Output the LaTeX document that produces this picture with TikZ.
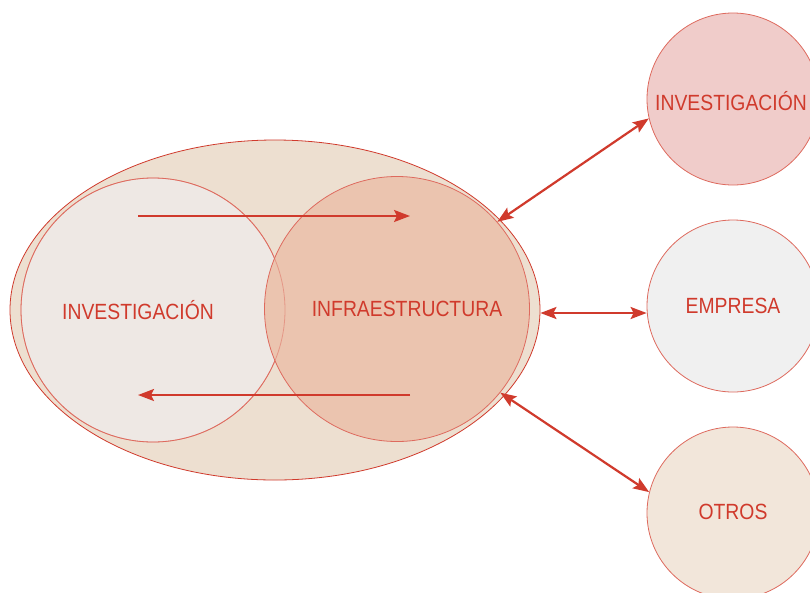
\documentclass[tikz,border=0pt]{standalone}
\usepackage{fontspec}
\setmainfont[FakeStretch=0.88]{Liberation Sans}
\usetikzlibrary{arrows.meta}
\usetikzlibrary{shapes.geometric}
\definecolor{redline}{HTML}{D03A2C}
\definecolor{rimline}{HTML}{DE6A5E}
\definecolor{ellfill}{HTML}{EDDFD0}
\definecolor{invfill}{HTML}{EEE8E4}
\definecolor{infrafill}{HTML}{EBC4AF}
\definecolor{pinkfill}{HTML}{F0CCCA}
\definecolor{greyfill}{HTML}{F0F0F0}
\definecolor{sandfill}{HTML}{F2E6DA}
\tikzstyle{bubble}=[circle, draw=rimline, line width=0.8pt, inner sep=0]
\tikzstyle{label}=[text=redline, font=\fontsize{22}{26}\selectfont, inner sep=0]
\tikzstyle{flow}=[draw=redline, line width=2.2pt, -{Stealth[length=16pt, width=12pt, inset=3pt]}]
\tikzstyle{link}=[draw=redline, line width=2.2pt, {Stealth[length=16pt, width=12pt, inset=3pt]}-{Stealth[length=16pt, width=12pt, inset=3pt]}]

\begin{document}
\begin{tikzpicture}[x=1pt, y=-1pt]
          \clip (0, 0) rectangle (810, 592);
          \fill[white] (0, 0) rectangle (810, 592);

          \node[ellipse, draw=redline, fill=ellfill, line width=0.8pt,
            minimum width=530, minimum height=340] (campus) at (275, 310) {};
          \node[bubble, fill=invfill, minimum size=264] (inv) at (153, 310) {};
          \node[bubble, fill=infrafill, minimum size=265] (infra) at (397, 309) {};
          \draw[rimline, line width=0.8pt, opacity=0.5] (inv) circle (132);

          \node[label] (inv_text) at (138, 310) {INVESTIGACIÓN};
          \node[label] (infra_text) at (407, 309) {INFRAESTRUCTURA};

          \node[bubble, fill=pinkfill, minimum size=172] (inv_out) at (733, 99) {};
          \node[bubble, fill=greyfill, minimum size=172] (empresa) at (733, 306) {};
          \node[bubble, fill=sandfill, minimum size=172] (otros) at (733, 513) {};
          \node[label] at (731, 101) {INVESTIGACIÓN};
          \node[label] at (733, 306) {EMPRESA};
          \node[label] at (733, 512) {OTROS};

          % ida y vuelta
          \coordinate (top_a) at (138, 216);
          \coordinate (top_b) at (410, 216);
          \coordinate (low_a) at (410, 395);
          \coordinate (low_b) at (138, 395);
          \draw[flow] (top_a) -- (top_b);
          \draw[flow] (low_a) -- (low_b);

          \draw[link] (infra.41) -- (inv_out.193);
          \draw[link] ([yshift=-3]campus.east) -- ([yshift=-3]campus.east -| empresa.west);
          \draw[link] (infra.-39) -- (otros.166);
        \end{tikzpicture}
\end{document}
